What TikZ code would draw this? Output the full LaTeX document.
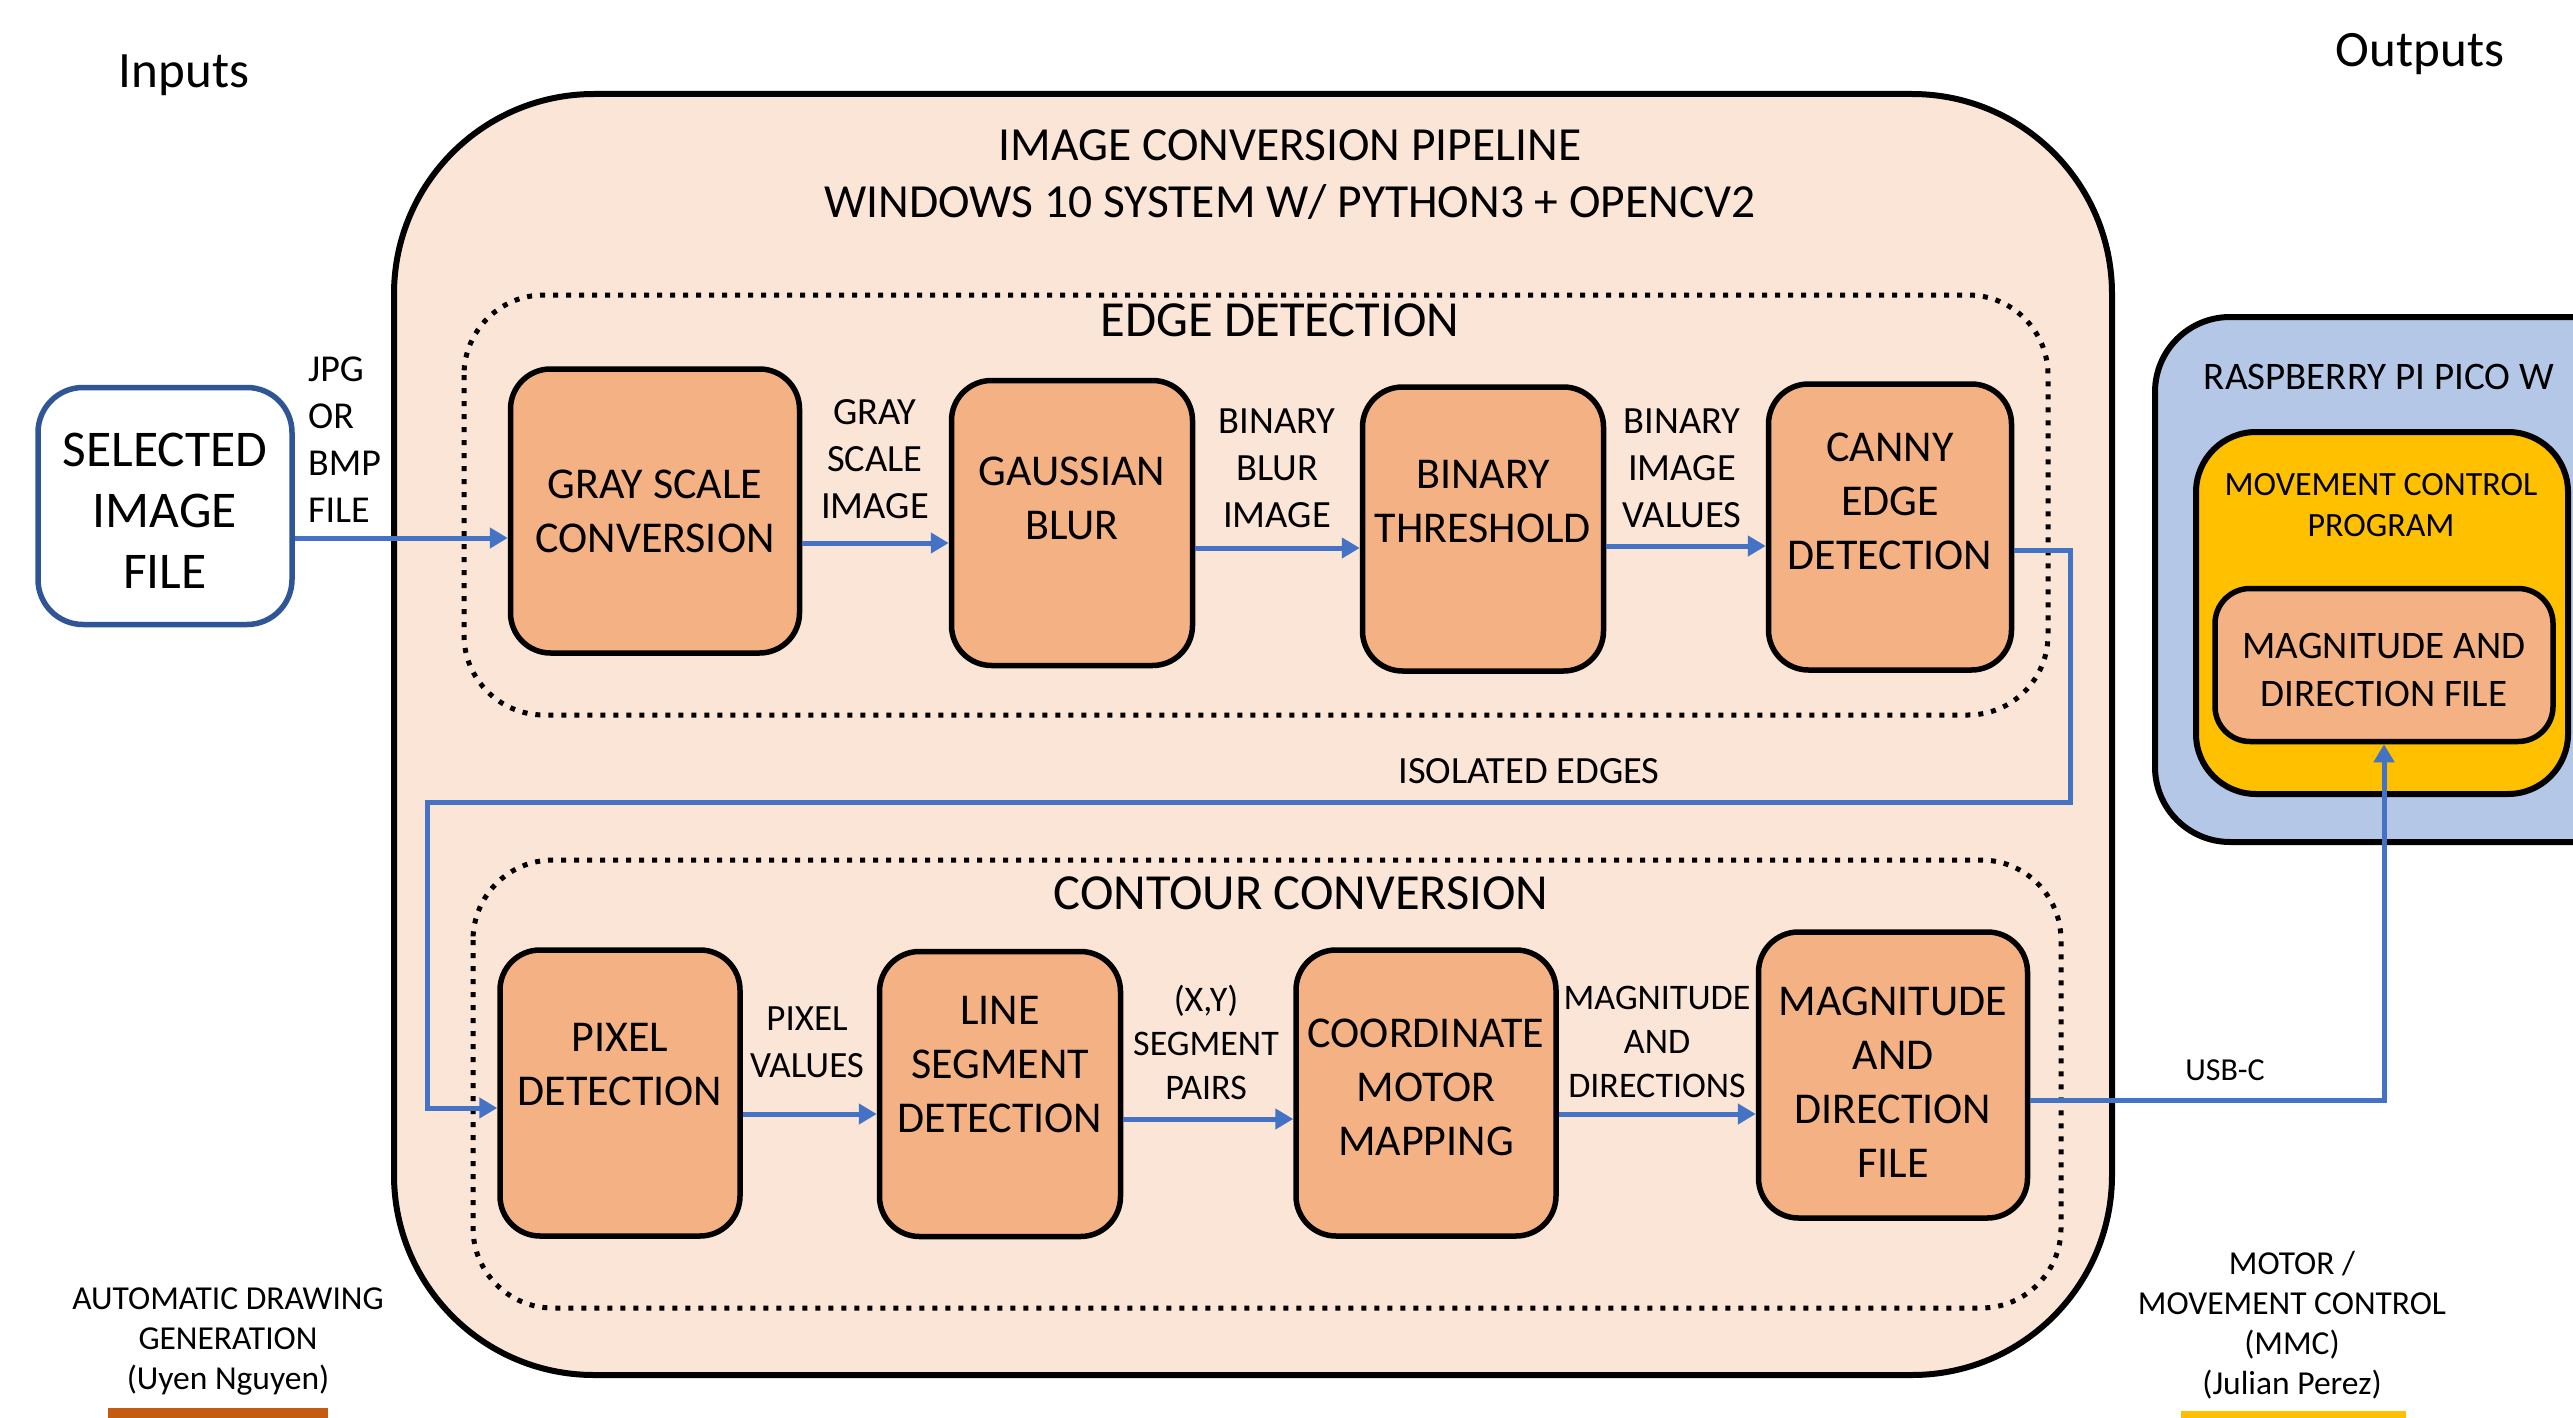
\documentclass[tikz,border=0pt]{standalone}
\usepackage{fontspec}
\setmainfont{Carlito}
\usetikzlibrary{arrows.meta}
\definecolor{bigfill}{HTML}{FBE5D6}
\definecolor{procfill}{HTML}{F4B183}
\definecolor{arrowblue}{HTML}{4472C4}
\definecolor{selblue}{HTML}{2F5597}
\definecolor{rpiblue}{HTML}{B4C7E7}
\definecolor{gold}{HTML}{FFC000}
\definecolor{darkorange}{HTML}{C55A11}
\begin{document}
\begin{tikzpicture}[x=1pt,y=-1pt,
 proc/.style={draw=black, line width=5.5pt, rounded corners=40pt, fill=procfill, inner sep=0pt},
 ptext/.style={align=center, font=\fontsize{44}{54}\selectfont, inner sep=0pt},
 lbl/.style={align=center, font=\fontsize{38.5}{47}\selectfont, inner sep=0pt},
 arr/.style={draw=arrowblue, line width=5pt, -{Triangle[length=18pt,width=20pt]}},
 dotbox/.style={draw=black, line width=5pt, dash pattern=on 5pt off 8pt, rounded corners=80pt},
 title/.style={align=center, font=\fontsize{47.5}{57}\selectfont, inner sep=0pt},
 small/.style={align=center, font=\fontsize{33.5}{40}\selectfont, inner sep=0pt},
]
\useasboundingbox (0,0) rectangle (2573,1418);
\fill[white] (0,0) rectangle (2573,1418);

% headers
\node[title, font=\fontsize{51}{60}\selectfont] (inputs) at (184,75) {Inputs};
\node[title, font=\fontsize{51}{60}\selectfont] (outputs) at (2420,54) {Outputs};

% big pipeline box
\draw[fill=bigfill, line width=6pt, rounded corners=200pt] (394,94) rectangle (2112,1375);
\node[title] (pt) at (1290,175) {IMAGE CONVERSION PIPELINE\\WINDOWS 10 SYSTEM W/ PYTHON3 + OPENCV2};

% dotted groups
\draw[dotbox] (464,295) rectangle (2048,715);
\node[title, font=\fontsize{50.5}{60}\selectfont] (edt) at (1280,320) {EDGE DETECTION};
\draw[dotbox] (473,860) rectangle (2061,1308);
\node[title, font=\fontsize{50.5}{60}\selectfont] (cct) at (1301,893) {CONTOUR CONVERSION};

% input
\node[draw=selblue, line width=5.5pt, rounded corners=45pt, fill=white, minimum width=254pt, minimum height=237pt, inner sep=0pt] (sel) at (165,506) {};
\node[ptext, font=\fontsize{51.5}{61}\selectfont] (selt) at ([yshift=-5pt]sel.center) {SELECTED\\IMAGE\\FILE};
\node[lbl, anchor=west, align=left, font=\fontsize{38}{47}\selectfont] (jpg) at (308,440) {JPG\\OR\\BMP\\FILE};

% edge detection row
\node[proc, minimum width=289pt, minimum height=284pt] (gray) at (655,511) {};
\node[ptext] (grayt) at (gray.center) {GRAY SCALE\\CONVERSION};
\node[proc, minimum width=241pt, minimum height=285pt] (gauss) at (1072,523) {};
\node[ptext] (gausst) at ([yshift=25pt]gauss.center) {GAUSSIAN\\BLUR};
\node[proc, minimum width=241pt, minimum height=284pt] (bin) at (1483,529) {};
\node[ptext] (bint) at ([yshift=27pt]bin.center) {BINARY\\THRESHOLD};
\node[proc, minimum width=243pt, minimum height=286pt] (canny) at (1890,527) {};
\node[ptext] (cannyt) at ([yshift=26pt]canny.center) {CANNY\\EDGE\\DETECTION};

\node[lbl] (l1) at (875,459) {GRAY\\SCALE\\IMAGE};
\node[lbl] (l2) at (1277,468) {BINARY\\BLUR\\IMAGE};
\node[lbl] (l3) at (1682,468) {BINARY\\IMAGE\\VALUES};

% contour row
\node[proc, minimum width=240pt, minimum height=286pt] (pix) at (620,1093) {};
\node[ptext] (pixt) at ([yshift=28pt]pix.center) {PIXEL\\DETECTION};
\node[proc, minimum width=241pt, minimum height=285pt] (seg) at (1000,1094) {};
\node[ptext] (segt) at ([yshift=29pt]seg.center) {LINE\\SEGMENT\\DETECTION};
\node[proc, minimum width=260pt, minimum height=286pt] (coord) at (1426,1093) {};
\node[ptext] (coordt) at ([yshift=6pt]coord.center) {COORDINATE\\MOTOR\\MAPPING};
\node[proc, minimum width=269pt, minimum height=286pt] (mag) at (1893,1075) {};
\node[ptext] (magt) at ([yshift=-7pt]mag.center) {MAGNITUDE\\AND\\DIRECTION\\FILE};

\node[lbl, font=\fontsize{37}{47}\selectfont] (l4) at (807,1042) {PIXEL\\VALUES};
\node[lbl, font=\fontsize{36}{44}\selectfont] (l5) at (1206,1042) {(X,Y)\\SEGMENT\\PAIRS};
\node[lbl, font=\fontsize{36}{44}\selectfont] (l6) at (1657,1042) {MAGNITUDE\\AND\\DIRECTIONS};

\node[lbl, font=\fontsize{38.5}{44}\selectfont] (iso) at (1529,771) {ISOLATED EDGES};

% raspberry pi (clipped at right edge)
\begin{scope}
\clip (0,0) rectangle (2573,1418);
\draw[fill=rpiblue, line width=6pt, rounded corners=75pt] (2155,317) rectangle (2660,842);
\node[draw=black, fill=gold, line width=6pt, rounded corners=60pt, minimum width=372pt, minimum height=362pt, inner sep=0pt] (mcp) at (2382,613) {};
\end{scope}
\node[lbl, font=\fontsize{39}{44}\selectfont] (rpi) at (2379,377) {RASPBERRY PI PICO W};
\node[lbl, font=\fontsize{34}{41}\selectfont] (mcpt) at (2381,505) {MOVEMENT CONTROL\\PROGRAM};
\node[proc, rounded corners=35pt, minimum width=338pt, minimum height=153pt] (rmag) at (2384,665) {};
\node[ptext, font=\fontsize{39}{48}\selectfont] (rmagt) at ([yshift=-5pt]rmag.center) {MAGNITUDE AND\\DIRECTION FILE};

% connectors
\draw[arr] (sel.east |- 0,538) -- (gray.west |- 0,538);
\draw[arr] (gray.east |- 0,543) -- (gauss.west |- 0,543);
\draw[arr] (gauss.east |- 0,548) -- (bin.west |- 0,548);
\draw[arr] (bin.east |- 0,546) -- (canny.west |- 0,546);
\coordinate (c1) at (2070,550);
\coordinate (c2) at (2070,802);
\coordinate (c3) at (427,802);
\coordinate (c4) at (427,1108);
\draw[arr] (canny.east |- c1) -- (c1) -- (c2) -- (c3) -- (c4) -- (pix.west |- c4);
\draw[arr] (pix.east |- 0,1114) -- (seg.west |- 0,1114);
\draw[arr] (seg.east |- 0,1119) -- (coord.west |- 0,1119);
\draw[arr] (coord.east |- 0,1114) -- (mag.west |- 0,1114);
\coordinate (c5) at (rmag.south |- 0,1100);
\draw[arr] (mag.east |- c5) -- (c5) -- (rmag.south);
\node[lbl, font=\fontsize{32}{36}\selectfont] (usb) at (2225,1070) {USB-C};

% footers
\node[small] (adg) at (228,1341) {AUTOMATIC DRAWING\\GENERATION\\(Uyen Nguyen)};
\fill[darkorange] (108,1408) rectangle (328,1425);
\node[small] (mmc) at (2292,1325) {MOTOR /\\MOVEMENT CONTROL\\(MMC)\\(Julian Perez)};
\fill[gold] (2181,1411) rectangle (2406,1425);
\end{tikzpicture}
\end{document}
